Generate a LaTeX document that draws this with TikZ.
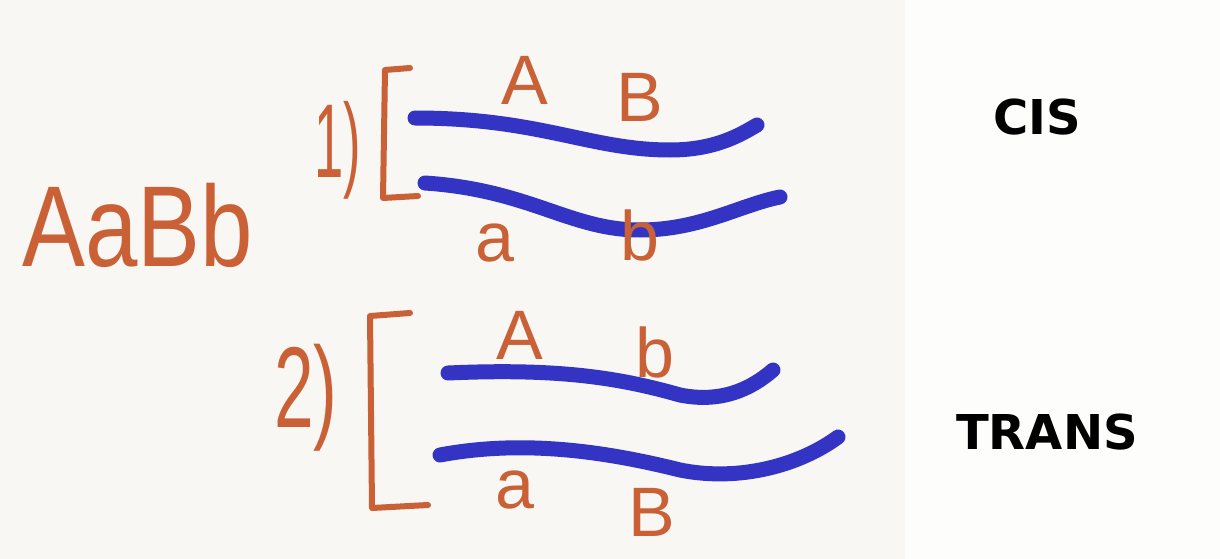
\documentclass[tikz,border=0pt]{standalone}
\usepackage{fontspec}
\setmainfont{Liberation Sans}
\newfontfamily\labelfont{DejaVu Sans}
\definecolor{chalk}{RGB}{201,96,54}
\definecolor{ink}{RGB}{52,52,196}
\definecolor{paper}{RGB}{248,247,243}
\definecolor{sheet}{RGB}{253,253,252}
\begin{document}
\begin{tikzpicture}[x=1pt,y=-1pt,
  hand/.style={text=chalk, inner sep=0pt, font=\fontsize{70}{70}\selectfont},
  strand/.style={draw=ink, line width=15pt, line cap=round},
  brack/.style={draw=chalk, line width=6pt, line join=round, line cap=round},
  tag/.style={font=\labelfont\bfseries\fontsize{48}{48}\selectfont, inner sep=0pt}]
\fill[paper] (0,0) rectangle (905,559);
\fill[sheet] (905,0) rectangle (1220,559);
\useasboundingbox (0,0) rectangle (1220,559);
% genotype
\node[hand, anchor=base west, font=\fontsize{115}{115}\selectfont] (geno) at (22,266) {\scalebox{0.82}[1]{AaBb}};
% case 1
\node[hand, font=\fontsize{105}{105}\selectfont] (one) at (338,150) {\scalebox{0.5}[1]{1)}};
\draw[brack] (410,68) -- (385,70) -- (383,198) -- (418,196);
\draw[strand] (415,118) .. controls (540,118) and (590,150) .. (670,150) .. controls (715,150) and (740,135) .. (757,125);
\draw[strand] (425,183) .. controls (530,190) and (570,230) .. (640,230) .. controls (700,230) and (740,205) .. (780,197);
\node[hand] (oA) at (525,80) {A};
\node[hand] (oB) at (640,97) {B};
\node[hand] (oa) at (495,243) {a};
\node[hand] (ob) at (640,235) {b};
% case 2
\node[hand, font=\fontsize{115}{115}\selectfont] (two) at (306,398) {\scalebox{0.62}[1]{2)}};
\draw[brack] (410,313) -- (370,316) -- (372,508) -- (428,505);
\draw[strand] (448,373) .. controls (560,368) and (620,378) .. (680,395) .. controls (720,403) and (750,390) .. (773,370);
\draw[strand] (440,455) .. controls (520,440) and (600,450) .. (680,470) .. controls (740,482) and (800,465) .. (838,437);
\node[hand] (tA) at (520,335) {A};
\node[hand] (tb) at (655,352) {b};
\node[hand] (ta) at (515,490) {a};
\node[hand] (tB) at (652,512) {B};
% labels
\node[tag] (cis) at (1037,117) {CIS};
\node[tag] (trans) at (1047,432) {TRANS};
\end{tikzpicture}
\end{document}
